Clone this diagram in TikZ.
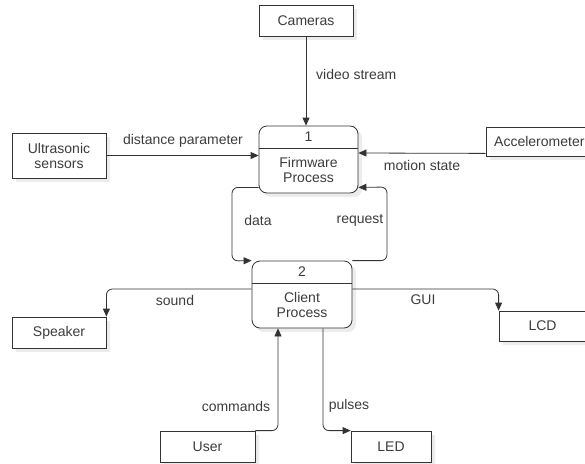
\documentclass[tikz,border=0pt]{standalone}
\usepackage{fontspec}
\setmainfont{Liberation Sans}
\usetikzlibrary{arrows.meta,shadows}
\definecolor{ln}{HTML}{333333}
\definecolor{txt}{HTML}{3C3C3C}
\definecolor{shd}{HTML}{ECECEC}
\begin{document}
\begin{tikzpicture}[x=1pt,y=-1pt,
  font=\fontsize{14}{15}\selectfont, text=txt,
  ext/.style={draw=ln, fill=white, line width=0.8pt, inner sep=0pt, align=center,
    drop shadow={shadow xshift=4pt,shadow yshift=-4pt,fill=shd,opacity=1}},
  proc/.style={ext, rounded corners=8pt},
  flow/.style={draw=ln, line width=0.8pt, -{Triangle[length=8pt,width=7pt]}, rounded corners=6pt},
  lbl/.style={inner sep=0pt, align=center}]
\useasboundingbox (0,0) rectangle (585,463);

% external entities
\node[ext, minimum width=94pt, minimum height=31pt] (cam) at (306,20.5) {Cameras};
\node[ext, minimum width=94pt, minimum height=45pt] (us) at (59,155.5) {Ultrasonic\\sensors};
\node[ext, minimum width=110pt, minimum height=29pt] (acc) at (541,141.5) {};
\node[lbl, anchor=west] (acct) at (494,141.5) {Accelerometer};
\node[ext, minimum width=94pt, minimum height=31pt] (spk) at (59,332.5) {Speaker};
\node[ext, minimum width=87pt, minimum height=30pt] (lcd) at (542.5,326) {LCD};
\node[ext, minimum width=95pt, minimum height=31pt] (usr) at (207.5,446.5) {User};
\node[ext, minimum width=80pt, minimum height=31pt] (led) at (391,446.5) {LED};

% processes
\node[proc, minimum width=99pt, minimum height=67pt] (p1) at (308.5,159.5) {};
\draw[draw=ln, line width=0.8pt] (p1.west |- 0,148) -- (p1.east |- 0,148);
\node[lbl] (p1n) at (308.5,137) {1};
\node[lbl] (p1t) at (308.5,170) {Firmware\\Process};

\node[proc, minimum width=100pt, minimum height=67pt] (p2) at (302,294.5) {};
\draw[draw=ln, line width=0.8pt] (p2.west |- 0,283) -- (p2.east |- 0,283);
\node[lbl] (p2n) at (302,272) {2};
\node[lbl] (p2t) at (302,305) {Client\\Process};

% data flows
\draw[flow] (cam.south) -- (cam.south |- p1.north);
\draw[flow] (us.east) -- (us.east -| p1.west);
\draw[flow] ([yshift=3pt]acc.south west) -- ([yshift=6.5pt]p1.east);
\draw[flow] ([yshift=6pt]p1.south west) -| (232,261) -- (p2.north west);
\draw[flow] (p2.north east) -| (387,187) -- ([yshift=6pt]p1.south east);
\draw[flow] ([yshift=5.5pt]p2.west) -| (spk.north east);
\draw[flow] ([yshift=5.5pt]p2.east) -| (lcd.north west);
\draw[flow] (usr.north east) -| ([xshift=-24pt]p2.south);
\draw[flow] ([xshift=21pt]p2.south) |- (led.north west);

% flow labels
\node[lbl, anchor=west] (l1) at (316,74) {video stream};
\node[lbl] (l2) at (183,141) {distance parameter};
\node[lbl] (l3) at (422,165) {motion state};
\node[lbl] (l4) at (258,220) {data};
\node[lbl] (l5) at (360,220) {request};
\node[lbl] (l6) at (175,300) {sound};
\node[lbl] (l7) at (423,300) {GUI};
\node[lbl] (l8) at (236,406) {commands};
\node[lbl] (l9) at (349,406) {pulses};
\end{tikzpicture}
\end{document}
